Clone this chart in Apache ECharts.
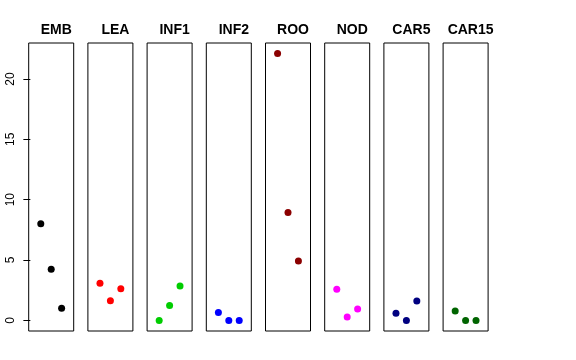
<!DOCTYPE html>
<html><head><meta charset="utf-8">
<script src="https://cdn.jsdelivr.net/npm/echarts@6/dist/echarts.min.js"></script>
<style>html,body{margin:0;padding:0;background:#fff}#c{width:576px;height:360px}</style>
</head><body><div id="c"></div>
<script>
var panels = ['EMB','LEA','INF1','INF2','ROO','NOD','CAR5','CAR15'];
var colors = ['#000000','#FF0000','#00CD00','#0000FF','#8B0000','#FF00FF','#000080','#006400'];
var xPositions = [1, 2, 3];
var EMB = [8.0, 4.23, 1.0];
var LEA = [3.07, 1.63, 2.62];
var INF1 = [0.0, 1.24, 2.85];
var INF2 = [0.66, 0.0, 0.0];
var ROO = [22.1, 8.93, 4.92];
var NOD = [2.57, 0.27, 0.94];
var CAR5 = [0.6, 0.0, 1.6];
var CAR15 = [0.77, 0.0, 0.0];
var yTicks = [0, 5, 10, 15, 20];
var values = [EMB, LEA, INF1, INF2, ROO, NOD, CAR5, CAR15];

var chart = echarts.init(document.getElementById('c'), null, {renderer: 'canvas'});
var grids = [], xAxes = [], yAxes = [], series = [], titles = [];
var left0 = 28.7, step = 59.2, pw = 45, ptop = 43, ph = 288;
var ymin = -0.88, ymax = 22.98;
panels.forEach(function (name, i) {
  var l = left0 + step * i;
  grids.push({left: l, top: ptop, width: pw, height: ph, show: true, borderColor: '#000', borderWidth: 1, backgroundColor: 'transparent'});
  xAxes.push({type: 'value', gridIndex: i, min: -0.16, max: 4.16, show: false});
  yAxes.push({
    type: 'value', gridIndex: i, min: ymin, max: ymax, show: i === 0,
    splitLine: {show: false},
    axisLine: {show: false},
    axisTick: {show: true, length: 7, customValues: yTicks, lineStyle: {color: '#000'}},
    axisLabel: {show: true, rotate: 90, margin: 12, customValues: yTicks, color: '#000', fontSize: 12, fontFamily: 'Liberation Sans, Arial, sans-serif'}
  });
  series.push({
    type: 'scatter', xAxisIndex: i, yAxisIndex: i, symbol: 'circle', symbolSize: 7,
    itemStyle: {color: colors[i], opacity: 1},
    data: values[i].map(function (v, j) { return [xPositions[j], v]; }),
    silent: true
  });
  titles.push({text: name, left: l + pw / 2, top: 18, textAlign: 'center',
    textStyle: {fontSize: 14, fontWeight: 'bold', color: '#000', fontFamily: 'Liberation Sans, Arial, sans-serif'}});
});
chart.setOption({
  animation: false,
  backgroundColor: '#fff',
  title: titles,
  grid: grids,
  xAxis: xAxes,
  yAxis: yAxes,
  series: series
});
</script></body></html>
